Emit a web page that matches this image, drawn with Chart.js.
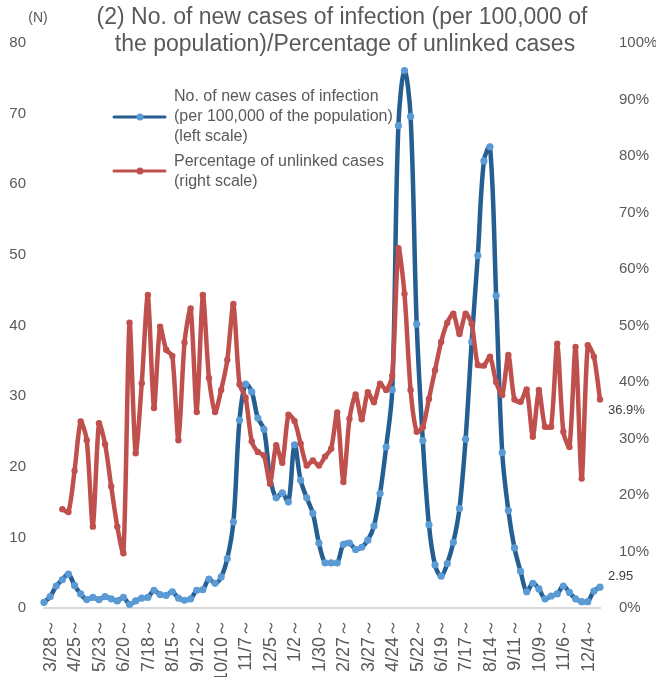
<!DOCTYPE html>
<html><head><meta charset="utf-8">
<script src="https://cdn.jsdelivr.net/npm/chart.js@4.4.1/dist/chart.umd.min.js"></script>
<style>
html,body{margin:0;padding:0;background:#fff;overflow:hidden;width:656px;height:677px}
#wrap{position:relative;width:656px;height:700px}
canvas{display:block}
</style></head><body>
<div id="wrap"><canvas id="c" width="656" height="700"></canvas></div>
<script>
// ---- data ----
const categories = [
 "3/28","4/4","4/11","4/18","4/25","5/2","5/9","5/16","5/23","5/30",
 "6/6","6/13","6/20","6/27","7/4","7/11","7/18","7/25","8/1","8/8",
 "8/15","8/22","8/29","9/5","9/12","9/19","9/26","10/3","10/10","10/17",
 "10/24","10/31","11/7","11/14","11/21","11/28","12/5","12/12","12/19","12/26",
 "1/2","1/9","1/16","1/23","1/30","2/6","2/13","2/20","2/27","3/6",
 "3/13","3/20","3/27","4/3","4/10","4/17","4/24","5/1","5/8","5/15",
 "5/22","5/29","6/5","6/12","6/19","6/26","7/3","7/10","7/17","7/24",
 "7/31","8/7","8/14","8/21","8/28","9/4","9/11","9/18","9/25","10/2",
 "10/9","10/16","10/23","10/30","11/6","11/13","11/20","11/27","12/4","12/11",
 "12/18","12/25"
];
const newCasesPer100k = [
 0.8, 1.6, 3.1, 4.0, 4.8, 3.2, 2.0, 1.2, 1.5, 1.2,
 1.6, 1.3, 1.0, 1.5, 0.5, 1.0, 1.4, 1.5, 2.5, 1.9,
 1.8, 2.3, 1.4, 1.1, 1.3, 2.5, 2.6, 4.1, 3.5, 4.4,
 7.0, 12.2, 26.6, 31.7, 30.6, 26.9, 25.3, 18.5, 15.6, 16.3,
 15.0, 23.1, 18.1, 15.6, 13.4, 9.2, 6.4, 6.4, 6.4, 9.0,
 9.2, 8.3, 8.6, 9.6, 11.6, 16.2, 22.8, 30.9, 68.3, 76.1,
 69.6, 40.2, 23.7, 11.8, 6.1, 4.5, 6.3, 9.3, 14.1, 23.9,
 37.7, 49.9, 63.3, 65.3, 44.2, 22.0, 13.8, 8.5, 5.2, 2.3,
 3.5, 2.7, 1.3, 1.7, 2.0, 3.1, 2.2, 1.3, 0.9, 0.9,
 2.4, 2.95
];
const unlinkedPct = [
 null, null, null, 17.5, 17.0, 24.3, 33.0, 29.7, 14.4, 32.7,
 29.0, 21.5, 14.4, 9.7, 50.5, 27.4, 39.8, 55.4, 35.4, 49.8,
 45.7, 44.6, 29.7, 47.0, 53.0, 34.7, 55.4, 40.7, 34.7, 38.6,
 43.9, 53.8, 39.6, 37.2, 29.5, 27.6, 27.0, 22.0, 28.8, 25.7,
 34.2, 33.1, 29.1, 25.2, 26.1, 25.2, 26.8, 28.2, 34.6, 22.3,
 33.5, 37.8, 33.4, 38.2, 36.4, 39.7, 38.6, 41.1, 63.7, 55.6,
 38.6, 31.2, 32.0, 37.0, 42.1, 47.1, 50.5, 52.1, 48.5, 52.1,
 50.3, 43.0, 42.9, 44.5, 40.0, 37.7, 44.8, 36.9, 36.5, 38.7,
 30.3, 38.6, 32.1, 32.1, 46.8, 31.2, 28.5, 46.2, 22.9, 46.5,
 44.5, 36.9
];
const leftAxis = { min: 0, max: 80, step: 10 };
const rightAxis = { min: 0, max: 100, step: 10 };
const titleLines = ["(2) No. of new cases of infection (per 100,000 of", "the population)/Percentage of unlinked cases"];
const leftUnit = "(N)";
const legendBlue = ["No. of new cases of infection", "(per 100,000 of the population)", "(left scale)"];
const legendRed = ["Percentage of unlinked cases", "(right scale)"];
const lastBlueLabel = "2.95";
const lastRedLabel = "36.9%";

// ---- styles ----
const BLUE_LINE = '#255e91', BLUE_PT = '#5b9bd5', RED = '#c0504d', TXT = '#595959', LBL = '#404040';
const SANS = '"Liberation Sans", Arial, sans-serif';
const NARROW = '"Liberation Sans Narrow", "Arial Narrow", "Liberation Sans", sans-serif';

const annot = {
  id: 'annot',
  afterDraw(c) {
    const ctx = c.ctx;
    ctx.save();
    ctx.fillStyle = TXT;
    ctx.textBaseline = 'middle';
    // title
    ctx.textAlign = 'center';
    ctx.font = '23px ' + SANS;
    ctx.fillText(titleLines[0], 342, 18);
    ctx.fillText(titleLines[1], 345, 45);
    // unit
    ctx.font = '14px ' + NARROW;
    ctx.fillText(leftUnit, 38, 18);
    // legend
    ctx.textAlign = 'left';
    ctx.font = '16px ' + SANS;
    legendBlue.forEach((t, i) => ctx.fillText(t, 174, 97 + i * 20));
    legendRed.forEach((t, i) => ctx.fillText(t, 174, 162 + i * 20));
    ctx.lineCap = 'round';
    ctx.lineWidth = 3;
    ctx.strokeStyle = BLUE_LINE;
    ctx.beginPath(); ctx.moveTo(114, 117); ctx.lineTo(165, 117); ctx.stroke();
    ctx.fillStyle = BLUE_PT;
    ctx.beginPath(); ctx.arc(140, 117, 3.5, 0, Math.PI * 2); ctx.fill();
    ctx.strokeStyle = RED;
    ctx.beginPath(); ctx.moveTo(114, 171); ctx.lineTo(165, 171); ctx.stroke();
    ctx.fillStyle = RED;
    ctx.beginPath(); ctx.arc(140, 171, 3.5, 0, Math.PI * 2); ctx.fill();
    // end data labels
    ctx.fillStyle = LBL;
    ctx.font = '13px ' + SANS;
    const mb = c.getDatasetMeta(0).data, mr = c.getDatasetMeta(1).data;
    const pb = mb[mb.length - 1], pr = mr[mr.length - 1];
    ctx.fillText(lastBlueLabel, pb.x + 8, pb.y - 11);
    ctx.fillText(lastRedLabel, pr.x + 8, pr.y + 11);
    ctx.restore();
  }
};

new Chart(document.getElementById('c'), {
  type: 'line',
  data: {
    labels: categories,
    datasets: [
      { label: legendBlue.join(' '), data: newCasesPer100k, yAxisID: 'yL',
        borderColor: BLUE_LINE, borderWidth: 4.5, tension: 0.35,
        pointRadius: 3.6, pointBackgroundColor: BLUE_PT, pointBorderWidth: 0,
        borderJoinStyle: 'round', borderCapStyle: 'round', order: 1, clip: false },
      { label: legendRed.join(' '), data: unlinkedPct, yAxisID: 'yR',
        borderColor: RED, borderWidth: 4.5, tension: 0.25,
        pointRadius: 3.2, pointBackgroundColor: RED, pointBorderWidth: 0,
        borderJoinStyle: 'round', borderCapStyle: 'round', order: 0, clip: false }
    ]
  },
  options: {
    responsive: false, animation: false, devicePixelRatio: 1,
    layout: { padding: { top: 43, left: 0, right: 0, bottom: 0 } },
    plugins: { legend: { display: false }, title: { display: false }, tooltip: { enabled: false } },
    scales: {
      x: {
        type: 'category', offset: false,
        grid: { display: false, drawTicks: false },
        border: { display: true, color: '#d9d9d9', width: 2 },
        ticks: {
          autoSkip: false, maxRotation: 90, minRotation: 90, padding: 11, labelOffset: 7,
          color: TXT, font: { family: SANS, size: 18 },
          callback: function (v, i) { return i % 4 === 0 ? this.getLabelForValue(v) + '～' : ''; }
        },
        afterFit: s => { s.height = 92; }
      },
      yL: {
        position: 'left', min: leftAxis.min, max: leftAxis.max,
        grid: { display: false, drawTicks: false }, border: { display: false },
        ticks: { stepSize: leftAxis.step, padding: 18, color: TXT, font: { family: NARROW, size: 15 } },
        afterFit: s => { s.width = 44; }
      },
      yR: {
        position: 'right', min: rightAxis.min, max: rightAxis.max,
        grid: { display: false, drawTicks: false }, border: { display: false },
        ticks: { stepSize: rightAxis.step, padding: 19, color: TXT, font: { family: NARROW, size: 15 },
          callback: v => v + '%' },
        afterFit: s => { s.width = 56; }
      }
    }
  },
  plugins: [annot]
});
</script>
</body></html>
